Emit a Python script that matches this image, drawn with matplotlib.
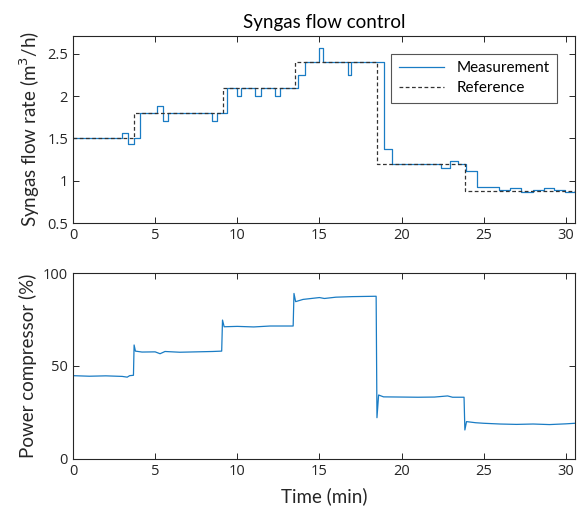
import matplotlib
matplotlib.use('Agg')
import matplotlib.pyplot as plt
import numpy as np

# flow measurement: step times (min) and values (m3/h)
meas_t = [0, 2.97, 3.37, 3.72, 4.05, 5.1, 5.47, 5.77, 8.46, 8.76, 9.37, 9.98, 10.24,
          11.1, 11.46, 12.27, 12.58, 13.7, 14.1, 15.0, 15.2, 16.73, 16.95, 18.92,
          19.43, 22.42, 22.95, 23.43, 23.94, 24.6, 25.93, 26.6, 27.25, 27.97, 28.64,
          29.3, 29.95, 30.55]
meas_v = [1.5, 1.56, 1.43, 1.5, 1.8, 1.88, 1.70, 1.8, 1.70, 1.8, 2.1, 2.0, 2.1,
          2.0, 2.1, 2.0, 2.1, 2.25, 2.4, 2.57, 2.4, 2.25, 2.4, 1.38,
          1.2, 1.15, 1.23, 1.2, 1.12, 0.92, 0.89, 0.91, 0.87, 0.89, 0.91,
          0.89, 0.87, 0.87]

# flow reference
ref_t = [0, 3.72, 9.1, 13.5, 18.48, 23.84, 30.55]
ref_v = [1.5, 1.8, 2.1, 2.4, 1.2, 0.88, 0.88]

# compressor power (%)
pow_t = [0, 1, 2, 3, 3.3, 3.45, 3.68, 3.72, 3.8, 4.2, 5, 5.3, 5.6, 6.5, 7.5, 8.5,
         9.05, 9.1, 9.2, 10, 11, 12, 13.4, 13.45, 13.55, 14, 15, 15.3, 16, 17,
         18.45, 18.5, 18.6, 18.9, 20, 21, 22, 22.8, 23.1, 23.8, 23.85, 23.95,
         24.5, 25, 26, 27, 28, 29, 30, 30.55]
pow_v = [44.8, 44.5, 44.7, 44.4, 44.0, 44.8, 45.0, 61.3, 58.0, 57.5, 57.6, 56.6, 57.8, 57.4, 57.6, 57.8,
         58.0, 74.7, 71.1, 71.3, 71.0, 71.5, 71.5, 89.0, 84.6, 85.8, 86.8, 86.3, 87.0, 87.3,
         87.5, 22.2, 34.4, 33.4, 33.3, 33.2, 33.3, 33.9, 33.2, 33.2, 15.6, 20.1,
         19.5, 19.2, 18.8, 18.6, 18.8, 18.5, 18.9, 19.2]

plt.rcParams['font.family'] = ['Lato', 'DejaVu Sans']
dark = '#262626'
blue = '#1a7cc4'

fig = plt.figure(figsize=(5.82, 5.23), dpi=100)
ax1 = fig.add_axes([0.1254, 0.5736, 0.8625, 0.3576])
ax2 = fig.add_axes([0.1254, 0.1224, 0.8625, 0.3556])

ax1.step(meas_t, meas_v, where='post', color=blue, lw=0.9, label='Measurement')
ax1.step(ref_t, ref_v, where='post', color='#333333', lw=0.9,
         linestyle=(0, (3, 2)), label='Reference')
ax1.set_xlim(0, 30.55)
ax1.set_ylim(0.5, 2.71)
ax1.set_yticks([0.5, 1, 1.5, 2, 2.5])
ax1.set_yticklabels(['0.5', '1', '1.5', '2', '2.5'])
ax1.set_title('Syngas flow control', fontsize=13.5, color='black', pad=6)
ax1.set_ylabel('Syngas flow rate (m$^3$/h)', fontsize=13.5, color=dark, labelpad=4)
leg = ax1.legend(loc='upper right', fontsize=11, fancybox=False, framealpha=1,
                 edgecolor='#555555', borderaxespad=1.15, handlelength=3.0,
                 borderpad=0.5, labelspacing=0.4)
leg.get_frame().set_linewidth(0.8)

ax2.plot(pow_t, pow_v, color=blue, lw=0.9)
ax2.set_xlim(0, 30.55)
ax2.set_ylim(0, 100)
ax2.set_yticks([0, 50, 100])
ax2.set_xlabel('Time (min)', fontsize=13.5, color=dark, labelpad=6)
ax2.set_ylabel('Power compressor (%)', fontsize=13.5, color=dark, labelpad=4)

for ax in (ax1, ax2):
    ax.set_xticks([0, 5, 10, 15, 20, 25, 30])
    ax.tick_params(direction='in', top=True, right=True, length=4, width=0.7,
                   colors=dark, labelsize=10.5)
    for lab in ax.get_xticklabels() + ax.get_yticklabels():
        lab.set_family(['Open Sans', 'DejaVu Sans'])
    for s in ax.spines.values():
        s.set_color(dark)
        s.set_linewidth(0.8)

fig.savefig('out.png', dpi=100)
